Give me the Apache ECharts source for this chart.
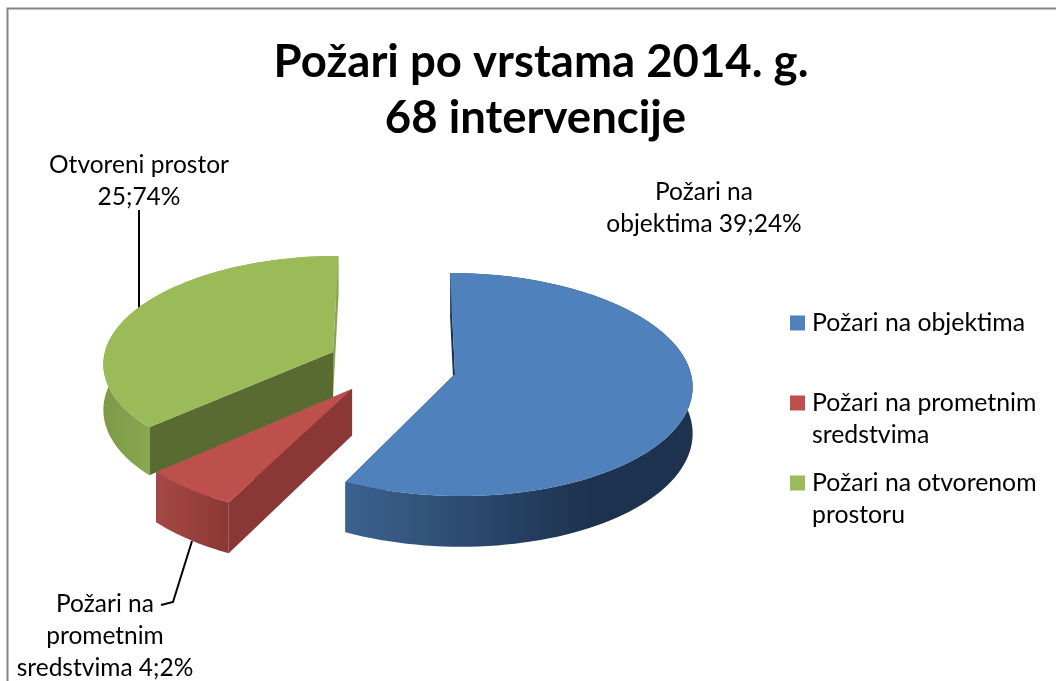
<!DOCTYPE html>
<html>
<head>
<meta charset="utf-8">
<style>html,body{margin:0;padding:0;background:#fff}#chart{width:1056px;height:681px}</style>
<script src="https://cdn.jsdelivr.net/npm/echarts@6/dist/echarts.min.js"></script>
</head>
<body>
<div id="chart"></div>
<script>
const titleText = 'Požari po vrstama 2014. g.\n68 intervencije '
const categories = ['Požari na objektima', 'Požari na prometnim sredstvima', 'Požari na otvorenom prostoru']
const legendLabels = ['Požari na objektima', ' \nPožari na prometnim\nsredstvima', ' \nPožari na otvorenom\nprostoru']
const values = [39, 4, 25]
const percents = [24, 2, 74]
const labelNames = ['Požari na\nobjektima', 'Požari na\nprometnim\nsredstvima', 'Otvoreni prostor\n']
const topColors = ['#4f81bd', '#bd4f4c', '#9bbb59']

// fake 3d: ground plane with a vanishing point, slices offset on it
const R = 236
const RY = 110.5
const K = 0.094
const VX = 397
const VY = 374
const DEPTH = 46
const centers = [[455, 0], [352.6, 0.134], [331.8, -0.203]]
const radiusScale = [1, 1.02, 0.985]
const sideStops = [
  [350, 590, '#3b618f', '#1d324e'],
  [157, 232, '#a64845', '#8a3735'],
  [104, 150, '#7d9948', '#8aa851']
]
const faceColors = [['#1c324f', '#1c324f'], ['#8a3735', '#8a3735'], ['#5a6b31', '#85a34e']]
const labelPos = [[704, 208], [105, 636], [139, 181]]
const legendCenters = [322, 402, 482]
const total = values.reduce((a, b) => a + b, 0)

function project(X, V, lift) {
  const s = 1 / (1 - K * V)
  return [VX + (X - VX) * s, VY + RY * V * s + (lift ? DEPTH * s : 0)]
}

function rimPoint(i, deg, lift) {
  const a = deg * Math.PI / 180
  const r = radiusScale[i]
  return project(centers[i][0] + R * r * Math.sin(a), centers[i][1] - r * Math.cos(a), lift)
}

function renderSlice(i, api) {
  const start = values.slice(0, i).reduce((a, b) => a + b, 0) / total * 360
  const end = start + api.value(0) / total * 360
  const apex = project(centers[i][0], centers[i][1], false)
  const apexLow = project(centers[i][0], centers[i][1], true)
  const top = []
  const low = []
  for (let d = start; d < end; d += 2) {
    top.push(rimPoint(i, d, false))
    low.push(rimPoint(i, d, true))
  }
  top.push(rimPoint(i, end, false))
  low.push(rimPoint(i, end, true))
  const poly = (points, fill) => ({ type: 'polygon', shape: { points }, style: { fill } })
  const sd = sideStops[i]
  const sideFill = {
    type: 'linear', global: true, x: sd[0], y: 0, x2: sd[1], y2: 0,
    colorStops: [{ offset: 0, color: sd[2] }, { offset: 1, color: sd[3] }]
  }
  return {
    type: 'group',
    children: [
      poly([apex, top[top.length - 1], low[low.length - 1], apexLow], faceColors[i][1]),
      poly([apex, top[0], low[0], apexLow], faceColors[i][0]),
      poly(top.concat(low.slice().reverse()), sideFill),
      poly([apex].concat(top), topColors[i]),
      {
        type: 'text',
        style: {
          x: labelPos[i][0], y: labelPos[i][1],
          text: labelNames[i] + (i === 2 ? '' : ' ') + values[i] + ';' + percents[i] + '%',
          font: '24.5px Lato', fill: '#000', align: 'center', verticalAlign: 'middle', lineHeight: 32
        }
      }
    ]
  }
}

const chart = echarts.init(document.getElementById('chart'), null, { renderer: 'canvas' })
chart.setOption({
  animation: false,
  backgroundColor: '#fff',
  color: topColors,
  title: {
    text: titleText,
    left: 536,
    top: 29,
    textAlign: 'center',
    textStyle: { fontFamily: 'Lato', fontWeight: 'bold', fontSize: 45.5, lineHeight: 56, color: '#000' }
  },
  legend: categories.map((name, i) => ({
    data: [name],
    left: 785,
    top: legendCenters[i] - (i ? 52 : 20),
    orient: 'vertical',
    itemWidth: 15,
    itemHeight: 15,
    icon: 'rect',
    selectedMode: false,
    formatter: () => legendLabels[i],
    textStyle: { fontFamily: 'Lato', fontSize: 24.8, lineHeight: 32, color: '#000', padding: [0, 0, 0, 2] }
  })),
  series: categories.map((name, i) => ({
    type: 'custom',
    name,
    coordinateSystem: 'none',
    silent: true,
    data: [[values[i]]],
    renderItem: (params, api) => renderSlice(i, api)
  })),
  graphic: [
    { type: 'rect', shape: { x: 7.5, y: 8.5, width: 1050, height: 680 }, style: { fill: 'none', stroke: '#868686', lineWidth: 2 }, z: -1 },
    { type: 'polyline', shape: { points: [[139, 210], [139, 311]] }, style: { fill: 'none', stroke: '#000', lineWidth: 2 } },
    { type: 'polyline', shape: { points: [[192, 541], [173, 602], [161, 605]] }, style: { fill: 'none', stroke: '#000', lineWidth: 2 } }
  ]
})
window.addEventListener('resize', () => chart.resize())
</script>
</body>
</html>
